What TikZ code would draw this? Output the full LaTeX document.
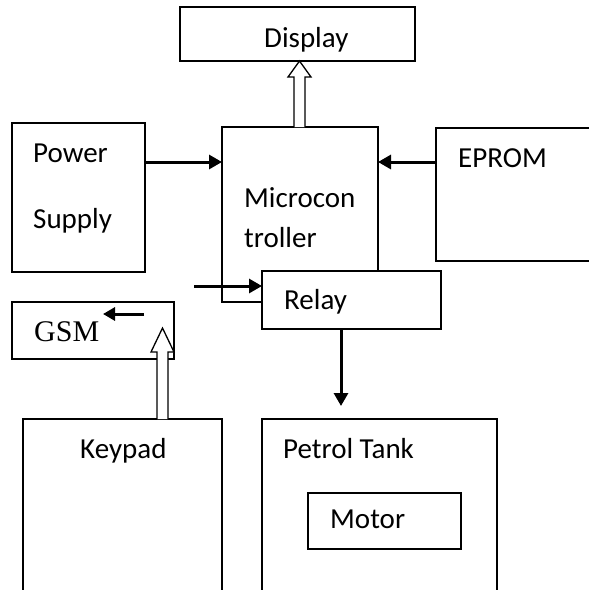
\documentclass[tikz,border=0pt]{standalone}
\usepackage{fontspec}
\setmainfont{Carlito}
\newfontfamily\gsmfont{Liberation Serif}
\usetikzlibrary{arrows.meta}
\begin{document}
\begin{tikzpicture}[x=1pt,y=-1pt,
  box/.style={draw,line width=1.3pt,fill=white,anchor=north west,inner sep=0pt,outer sep=0pt},
  lbl/.style={anchor=base west,inner sep=0pt,font=\fontsize{29}{35}\selectfont},
  thickarrow/.style={line width=3pt,-{Triangle[length=13pt,width=14pt]}},
  hollow/.style={draw,line width=1.3pt,fill=white,line join=miter}]
\useasboundingbox (0,0) rectangle (589,590);
% boxes
\node[box,minimum width=235pt,minimum height=54pt] (disp) at (180,7) {};
\node[box,minimum width=133pt,minimum height=149pt] (ps) at (12,123) {};
\node[box,minimum width=156pt,minimum height=175pt] (mc) at (222,127) {};
\node[box,minimum width=179pt,minimum height=58pt] (relay) at (262,271) {};
\node[box,minimum width=162pt,minimum height=57pt] (gsm) at (12,302) {};
\node[box,minimum width=153pt,minimum height=56pt] (motor) at (308,493) {};
% open boxes
\coordinate (ep) at (436,128);
\draw[line width=1.3pt] (589,128) -- (ep) -- (436,261) -- (589,261);
\coordinate (kp) at (23,419);
\draw[line width=1.3pt] (23,595) -- (kp) -- (222,419) -- (222,595);
\coordinate (pt) at (262,419);
\draw[line width=1.3pt] (262,595) -- (pt) -- (497,419) -- (497,595);
% labels
\node[lbl] (tdisp) at (264,47) {Display};
\node[lbl] (tpow) at (33,162) {Power};
\node[lbl] (tsup) at (33,228) {Supply};
\node[lbl] (tmc1) at (244,207) {Microcon};
\node[lbl] (tmc2) at (244,247) {troller};
\node[lbl] (tep) at (458,167) {EPROM};
\node[lbl] (trel) at (284,309) {Relay};
\node[lbl,font=\gsmfont\fontsize{30}{35}\selectfont] (tgsm) at (34,341) {GSM};
\node[lbl] (tkp) at (80,458) {Keypad};
\node[lbl] (tpt) at (283,458) {Petrol Tank};
\node[lbl] (tmot) at (330,528) {Motor};
% thick arrows
\coordinate (relin) at (194,286);
\draw[thickarrow] (ps.east |- 0,162) -- (mc.west |- 0,162);
\draw[thickarrow] (ep |- 0,162) -- (mc.east |- 0,162);
\draw[thickarrow] (relin) -- (relay.west |- relin);
\draw[thickarrow] (relay.south -| 341,0) -- (341,406);
\coordinate (ga) at (144,314);
\draw[line width=3pt,-{Triangle[length=12pt,width=13pt]}] (ga) -- (103,314);
% hollow arrows
\draw[hollow] (294,127) -- (294,77) -- (288,77) -- (299.5,61) -- (311,77) -- (305,77) -- (305,127);
\draw[hollow] (157,419) -- (157,352) -- (151,352) -- (162.5,328) -- (174,352) -- (168,352) -- (168,419);
\end{tikzpicture}
\end{document}
